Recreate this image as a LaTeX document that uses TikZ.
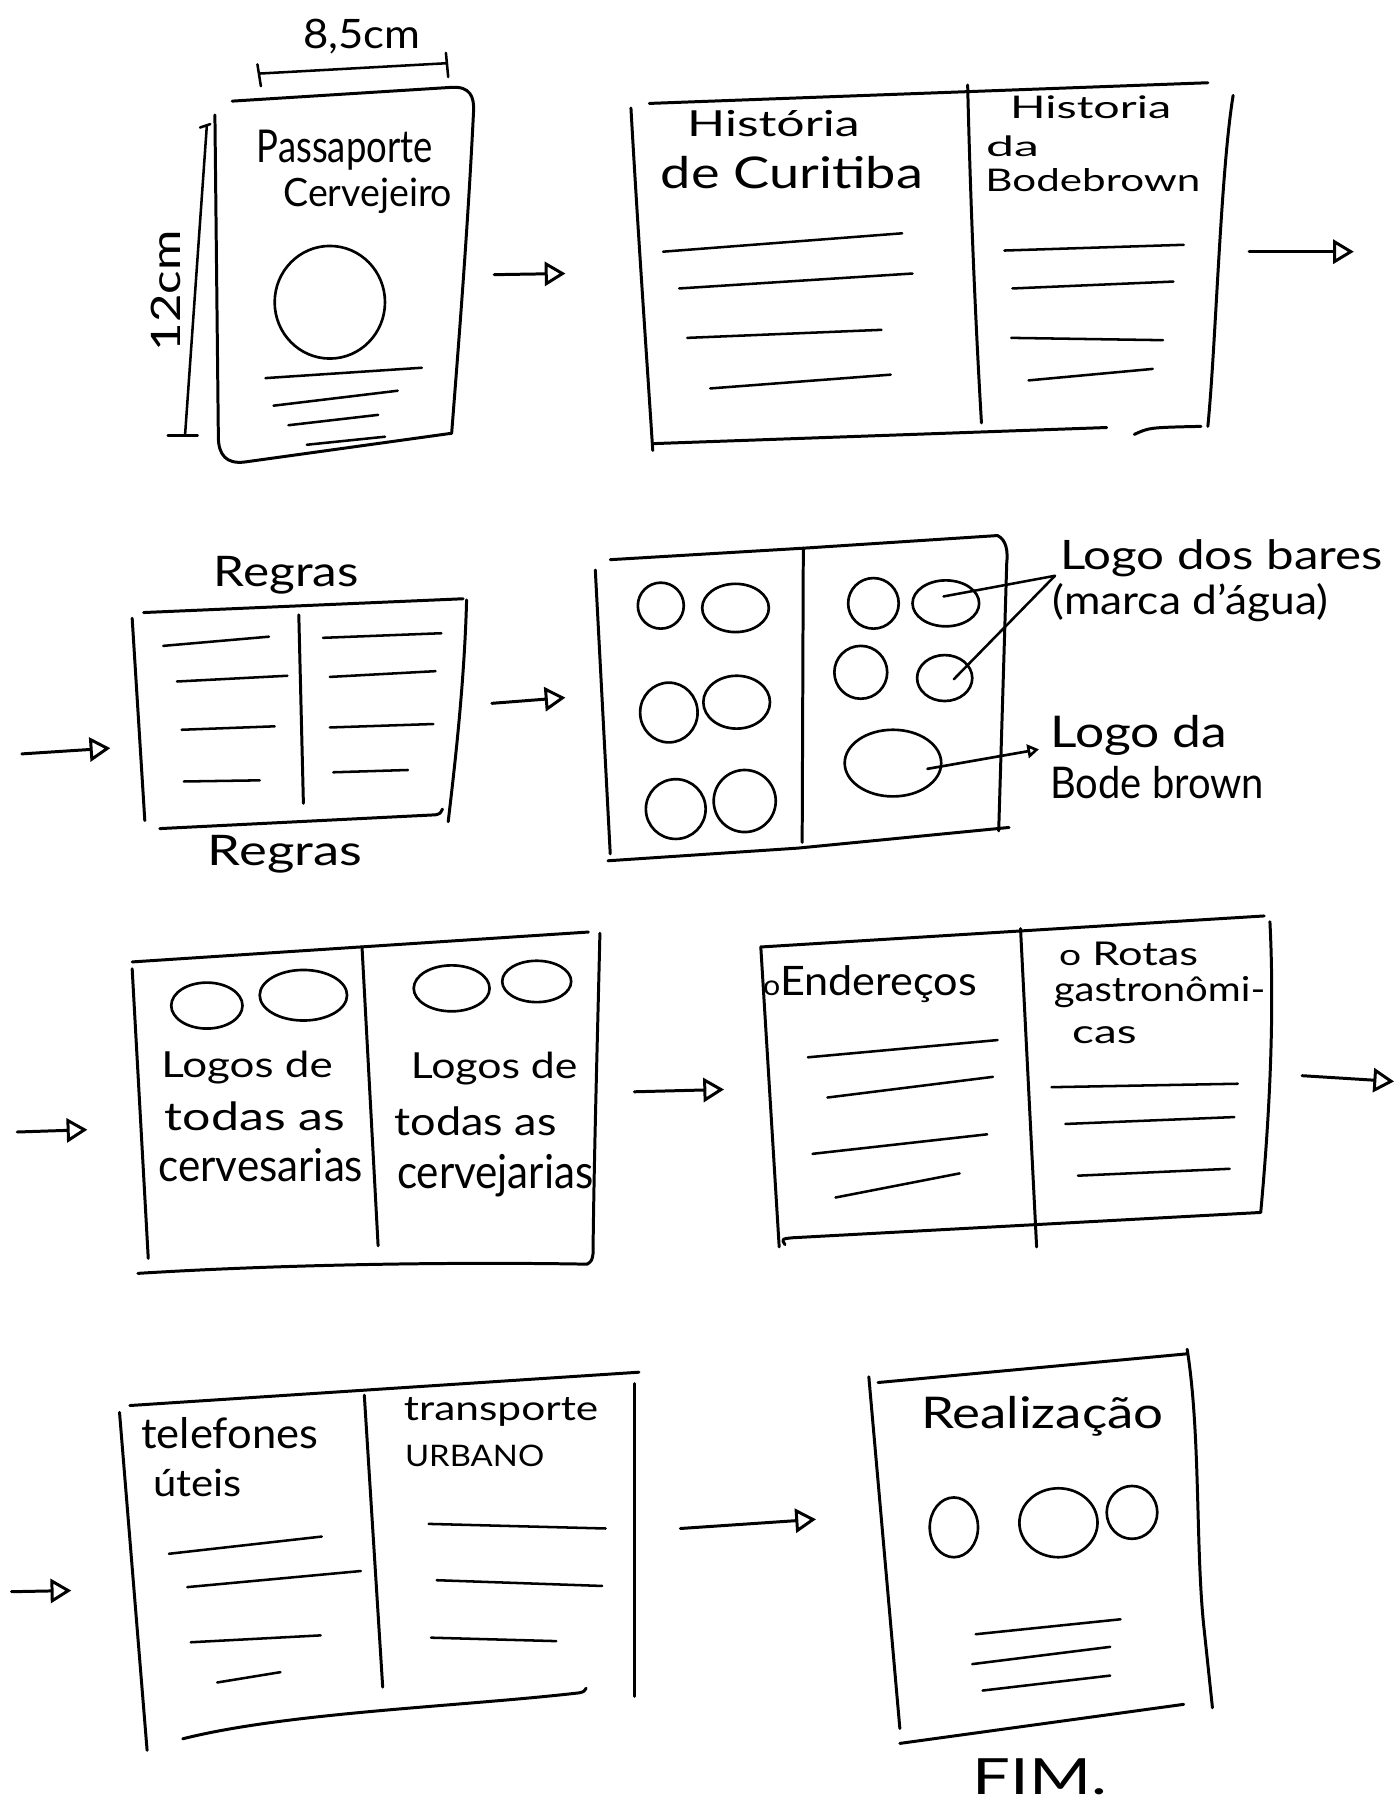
\documentclass[tikz,border=0pt]{standalone}
\usepackage{fontspec}
\setmainfont{Lato}
\usepackage{graphicx}
\usetikzlibrary{arrows.meta,shapes.geometric,calc}

% text set to a given width and ascender height (both in pt)
\newcommand{\hw}[3][26]{\resizebox{#2pt}{#1pt}{\vphantom{Hd}#3}}

\begin{document}
\begin{tikzpicture}[x=1pt,y=-1pt,
  pen/.style={line width=2.6pt, line cap=round, line join=round},
  rule/.style={line width=2.2pt, line cap=round},
  flow/.style={line width=2.6pt, line cap=round, -{Triangle[open,length=18pt,width=21pt]}},
  smallflow/.style={line width=2.3pt, line cap=round, -{Triangle[open,length=10pt,width=12pt]}},
  logo/.style 2 args={ellipse, draw, line width=2.3pt, inner sep=0pt, minimum width=#1pt, minimum height=#2pt},
  lbl/.style={inner sep=0pt}]

\useasboundingbox[fill=white] (0,0) rectangle (1216,1568);

% ---------- cover of the passport ----------
\draw[pen] (202,88) -- (393,76) .. controls (409,75) and (413,84) .. (412,98)
  .. controls (407,200) and (399,300) .. (393,377) -- (213,402)
  .. controls (197,404) and (190,396) .. (190,380) -- (187,100);
\node[lbl] (pp1) at (300,130) {\hw[29]{153}{Passaporte}};
\node[lbl] (pp2) at (320,170) {\hw[25]{147}{Cervejeiro}};
\node[logo={96}{98}] (ppc) at (287,263) {};
\draw[rule] (231,329) -- (367,320);
\draw[rule] (238,353) -- (346,340);
\draw[rule] (251,370) -- (329,361);
\draw[rule] (267,387) -- (335,380);

% width dimension
\coordinate (dw1) at (226,64);
\coordinate (dw2) at (389,55);
\draw[rule] (dw1) -- (dw2);
\draw[rule] (224,56) -- (227,75);
\draw[rule] (388,46) -- (390,67);
\node[lbl] (dwt) at (315,32) {\hw[26]{102}{8,5cm}};

% height dimension
\coordinate (dh1) at (180,109);
\coordinate (dh2) at (161,379);
\draw[rule] (dh1) -- (dh2);
\draw[rule] (174,111) -- (183,108);
\draw[rule] (146,379) -- (172,379);
\node[lbl, rotate=90] (dht) at (144,253) {\hw[26]{105}{12cm}};

\coordinate (a1s) at (430,239);
\coordinate (a1e) at (492,238);
\draw[flow] (a1s) -- (a1e);

% ---------- spread: history ----------
\draw[pen] (565,90) -- (1051,72);
\draw[pen] (549,94) .. controls (555,200) and (562,300) .. (568,392);
\draw[pen] (569,386) -- (963,372);
\draw[pen] (987,378) .. controls (1000,372) .. (1045,371);
\draw[pen] (1073,83) .. controls (1062,150) and (1058,300) .. (1051,371);
\draw[pen] (842,74) .. controls (845,200) and (850,300) .. (854,368);
\node[lbl] (h1) at (673,107) {\hw[23]{150}{História}};
\node[lbl] (h2) at (689,150) {\hw[28]{228}{de Curitiba}};
\node[lbl] (h3) at (949,93) {\hw[20]{140}{Historia}};
\node[lbl] (h4) at (881,127) {\hw[18]{46}{da}};
\node[lbl] (h5) at (951,157) {\hw[20]{187}{Bodebrown}};
\draw[rule] (577,219) -- (785,203);
\draw[rule] (591,251) -- (794,238);
\draw[rule] (598,294) -- (767,287);
\draw[rule] (618,338) -- (775,326);
\draw[rule] (874,218) -- (1030,213);
\draw[rule] (881,251) -- (1021,245);
\draw[rule] (880,294) -- (1012,296);
\draw[rule] (895,331) -- (1003,321);

\coordinate (a2s) at (1087,219);
\coordinate (a2e) at (1178,219);
\draw[flow] (a2s) -- (a2e);

% ---------- spread: rules ----------
\coordinate (a3s) at (19,656);
\coordinate (a3e) at (96,651);
\draw[flow] (a3s) -- (a3e);
\draw[pen] (125,533) -- (403,521);
\draw[pen] (406,522) .. controls (404,600) and (394,680) .. (390,715);
\draw[pen] (115,538) -- (126,714);
\draw[pen] (139,721) -- (379,709) .. controls (383,708) .. (385,704);
\draw[pen] (260,535) -- (264,699);
\draw[rule] (142,562) -- (234,554);
\draw[rule] (154,593) -- (250,588);
\draw[rule] (158,635) -- (239,632);
\draw[rule] (160,680) -- (226,679);
\draw[rule] (281,555) -- (384,551);
\draw[rule] (287,589) -- (379,584);
\draw[rule] (287,633) -- (377,630);
\draw[rule] (290,672) -- (355,670);
\node[lbl] (rg1) at (249,500) {\hw[27]{126}{Regras}};
\node[lbl] (rg2) at (248,743) {\hw[27]{134}{Regras}};

\coordinate (a4s) at (428,612);
\coordinate (a4e) at (492,607);
\draw[flow] (a4s) -- (a4e);

% ---------- spread: bar logos ----------
\draw[pen] (531,487) -- (699,477) -- (868,466)
  .. controls (876,470) and (877,480) .. (876,490) -- (869,723);
\draw[pen] (518,496) -- (531,743);
\draw[pen] (529,749) -- (694,738) -- (878,720);
\draw[pen] (699,477) -- (698,733);
\node[logo={40}{40}] (l1) at (575,527) {};
\node[logo={58}{42}] (l2) at (640,529) {};
\node[logo={50}{52}] (l3) at (582,620) {};
\node[logo={58}{46}] (l4) at (641,611) {};
\node[logo={52}{52}] (l5) at (588,704) {};
\node[logo={54}{54}] (l6) at (648,697) {};
\node[logo={44}{44}] (r1) at (760,525) {};
\node[logo={58}{40}] (r2) at (823,525) {};
\node[logo={46}{46}] (r3) at (749,585) {};
\node[logo={48}{40}] (r4) at (822,590) {};
\node[logo={84}{58}] (r5) at (777,664) {};

\node[lbl] (lb1) at (1063,486) {\hw[26]{281}{Logo dos bares}};
\node[lbl] (lb2) at (1036,524) {\hw[27]{240}{(marca d'água)}};
\coordinate (lbp) at (918,501);
\draw[rule] (lbp) -- ($(r2.center)+(-2,-6)$);
\draw[rule] (lbp) -- ($(r4.center)+(8,1)$);

\node[lbl] (bb1) at (991,640) {\hw[28]{154}{Logo da}};
\node[lbl] (bb2) at (1007,681) {\hw[28]{186}{Bode brown}};
\coordinate (bbp) at (904,652);
\draw[smallflow] ($(r5.center)+(30,5)$) -- (bbp);

% ---------- spread: brewery logos ----------
\coordinate (a5s) at (15,985);
\coordinate (a5e) at (76,983);
\draw[flow] (a5s) -- (a5e);
\draw[pen] (115,837) -- (512,811);
\draw[pen] (522,812) .. controls (520,900) and (517,1000) .. (516,1091) .. controls (515,1097) .. (511,1100);
\draw[pen] (115,843) -- (129,1095);
\draw[pen] (120,1108) .. controls (250,1100) and (400,1098) .. (511,1100);
\draw[pen] (315,824) -- (329,1084);
\node[logo={62}{40}] (c1) at (180,875) {};
\node[logo={76}{44}] (c2) at (264,866) {};
\node[logo={66}{40}] (c3) at (393,860) {};
\node[logo={60}{36}] (c4) at (467,854) {};
\node[lbl] (g1) at (215,929) {\hw[23]{149}{Logos de}};
\node[lbl] (g2) at (222,971) {\hw[25]{157}{todas as}};
\node[lbl] (g3) at (227,1014) {\hw[29]{178}{cervesarias}};
\node[lbl] (g4) at (430,930) {\hw[23]{145}{Logos de}};
\node[lbl] (g5) at (414,976) {\hw[25]{141}{todas as}};
\node[lbl] (g6) at (431,1023) {\hw[30]{171}{cervejarias}};

\coordinate (a6s) at (552,950);
\coordinate (a6e) at (630,948);
\draw[flow] (a6s) -- (a6e);

% ---------- spread: addresses and routes ----------
\draw[pen] (662,824) -- (1100,797);
\draw[pen] (1105,802) .. controls (1110,900) and (1102,1000) .. (1097,1055);
\draw[pen] (662,824) -- (678,1085);
\draw[pen] (683,1083) .. controls (680,1078) .. (690,1077) -- (1097,1055);
\draw[pen] (888,808) -- (902,1085);
\node[lbl] (e1) at (757,856) {\hw[26]{186}{{\scriptsize o}Endereços}};
\node[lbl] (e2) at (982,830) {\hw[21]{121}{{\small o} Rotas}};
\node[lbl] (e3) at (1009,863) {\hw[22]{184}{gastronômi-}};
\node[lbl] (e4) at (961,898) {\hw[21]{56}{cas}};
\draw[rule] (703,920) -- (868,905);
\draw[rule] (720,955) -- (864,937);
\draw[rule] (707,1004) -- (859,987);
\draw[rule] (727,1042) -- (835,1021);
\draw[rule] (915,946) -- (1077,943);
\draw[rule] (927,978) -- (1074,972);
\draw[rule] (938,1023) -- (1070,1017);

\coordinate (a7s) at (1133,936);
\coordinate (a7e) at (1213,941);
\draw[flow] (a7s) -- (a7e);

% ---------- spread: phones and transport ----------
\coordinate (a8s) at (10,1385);
\coordinate (a8e) at (62,1384);
\draw[flow] (a8s) -- (a8e);
\draw[pen] (113,1223) -- (556,1194);
\draw[pen] (104,1229) -- (128,1523);
\draw[pen] (159,1513) .. controls (250,1490) and (400,1485) .. (504,1473) .. controls (508,1472) .. (510,1469);
\draw[pen] (552,1204) -- (552,1476);
\draw[pen] (317,1214) -- (333,1468);
\node[lbl] (t1) at (200,1247) {\hw[27]{154}{telefones}};
\node[lbl] (t2) at (172,1290) {\hw[24]{77}{úteis}};
\node[lbl] (t3) at (436,1228) {\hw[22]{169}{transporte}};
\node[lbl] (t4) at (413,1267) {\hw[19]{121}{URBANO}};
\draw[rule] (147,1352) -- (280,1337);
\draw[rule] (163,1381) -- (314,1367);
\draw[rule] (166,1429) -- (279,1423);
\draw[rule] (189,1464) -- (244,1455);
\draw[rule] (373,1326) -- (527,1330);
\draw[rule] (380,1375) -- (524,1380);
\draw[rule] (375,1425) -- (484,1428);

\coordinate (a9s) at (592,1330);
\coordinate (a9e) at (710,1322);
\draw[flow] (a9s) -- (a9e);

% ---------- back cover ----------
\draw[pen] (764,1203) -- (1033,1178);
\draw[pen] (756,1198) -- (783,1504);
\draw[pen] (783,1517) -- (1030,1483);
\draw[pen] (1033,1174) .. controls (1045,1250) and (1040,1350) .. (1048,1420) -- (1055,1486);
\node[lbl] (rz) at (907,1232) {\hw[28]{211}{Realização}};
\node[logo={42}{52}] (z1) at (830,1329) {};
\node[logo={68}{60}] (z2) at (921,1325) {};
\node[logo={44}{46}] (z3) at (985,1316) {};
\draw[rule] (849,1422) -- (975,1409);
\draw[rule] (846,1448) -- (966,1433);
\draw[rule] (855,1471) -- (966,1458);
\node[lbl] (fim) at (905,1546) {\hw[32]{117}{FIM.}};

\end{tikzpicture}
\end{document}
